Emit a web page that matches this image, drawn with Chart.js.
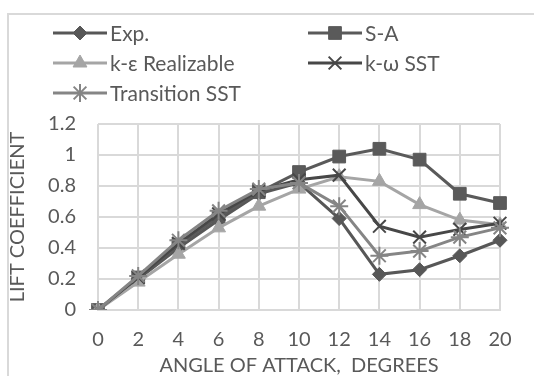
<!DOCTYPE html>
<html>
<head>
<meta charset="utf-8">
<script src="https://cdn.jsdelivr.net/npm/chart.js@4/dist/chart.umd.min.js"></script>
<style>
  body { margin: 0; background: #fff; }
  .wrap { position: relative; width: 534px; height: 376px; overflow: hidden; }
  .frame { position: absolute; left: 7px; top: 13px; width: 600px; height: 420px; border: 2px solid #d9d9d9; }
  canvas { position: absolute; left: 0; top: 0; }
</style>
</head>
<body>
<div class="wrap">
  <div class="frame"></div>
  <canvas id="lift" width="534" height="376"></canvas>
</div>
<script>
const angles = ['0', '2', '4', '6', '8', '10', '12', '14', '16', '18', '20'];
const expLift = [0, 0.2, 0.4, 0.58, 0.75, 0.82, 0.59, 0.23, 0.26, 0.35, 0.45];
const saLift = [0, 0.21, 0.42, 0.6, 0.76, 0.89, 0.99, 1.04, 0.97, 0.75, 0.69];
const keLift = [0, 0.18, 0.36, 0.53, 0.67, 0.78, 0.86, 0.83, 0.68, 0.58, 0.55];
const kwLift = [0, 0.21, 0.43, 0.62, 0.77, 0.84, 0.87, 0.54, 0.47, 0.52, 0.56];
const trLift = [0, 0.22, 0.45, 0.64, 0.78, 0.82, 0.67, 0.35, 0.38, 0.47, 0.53];

const FONT = 'Lato';
const TEXT = '#595959';

const makeSeries = (label, data, color, pointStyle, radius, order) => ({
  label,
  data,
  borderColor: color,
  backgroundColor: color,
  borderWidth: 3,
  pointStyle,
  pointRadius: radius,
  pointBorderWidth: pointStyle === 'crossRot' || pointStyle === 'star' ? 2 : 1,
  pointBackgroundColor: color,
  pointBorderColor: color,
  tension: 0,
  order,
});

const datasets = [
  makeSeries('Exp.', expLift, '#575757', 'rectRot', 7, 5),
  makeSeries('S-A', saLift, '#5a5a5a', 'rect', 9, 4),
  makeSeries('k-ε Realizable', keLift, '#a5a5a5', 'triangle', 8, 3),
  makeSeries('k-ω SST', kwLift, '#474747', 'crossRot', 9, 2),
  makeSeries('Transition SST', trLift, '#858585', 'star', 9, 1),
];

// legend drawn by hand: two columns, line with marker in the middle
const legendSpots = [
  { x: 53, y: 33 }, { x: 308, y: 33 },
  { x: 53, y: 63 }, { x: 308, y: 63 },
  { x: 53, y: 93 },
];

const lineLegend = {
  id: 'lineLegend',
  afterDraw(chart) {
    const ctx = chart.ctx;
    const drawPoint = Chart.helpers && Chart.helpers.drawPoint;
    chart.data.datasets.forEach((ds, i) => {
      const spot = legendSpots[i];
      ctx.save();
      ctx.strokeStyle = ds.borderColor;
      ctx.fillStyle = ds.borderColor;
      ctx.lineWidth = 3;
      ctx.beginPath();
      ctx.moveTo(spot.x, spot.y);
      ctx.lineTo(spot.x + 54, spot.y);
      ctx.stroke();
      if (drawPoint) {
        ctx.lineWidth = ds.pointBorderWidth;
        drawPoint(ctx, { pointStyle: ds.pointStyle, radius: ds.pointRadius, rotation: 0, borderWidth: ds.pointBorderWidth }, spot.x + 27, spot.y);
      }
      ctx.fillStyle = TEXT;
      ctx.font = `21px ${FONT}`;
      ctx.textBaseline = 'middle';
      ctx.textAlign = 'left';
      ctx.fillText(ds.label, spot.x + 57, spot.y + 1);
      ctx.restore();
    });
  },
};

new Chart(document.getElementById('lift'), {
  type: 'line',
  data: { labels: angles, datasets },
  plugins: [lineLegend],
  options: {
    responsive: false,
    animation: false,
    layout: { padding: { top: 124, right: 34, left: 0, bottom: 0 } },
    plugins: { legend: { display: false }, tooltip: { enabled: false } },
    scales: {
      x: {
        type: 'category',
        offset: false,
        grid: { color: '#d9d9d9', lineWidth: 2, drawTicks: false, offset: false },
        border: { color: '#d9d9d9', width: 2 },
        ticks: { color: TEXT, font: { family: FONT, size: 20 }, padding: 18, maxRotation: 0, autoSkip: false },
        title: { display: true, text: 'ANGLE OF ATTACK,  DEGREES', color: TEXT, font: { family: FONT, size: 20, lineHeight: 1 }, padding: 0 },
        afterFit(scale) { scale.height = 66; },
      },
      y: {
        min: 0,
        max: 1.2,
        grid: { color: '#d9d9d9', lineWidth: 2, drawTicks: false },
        border: { display: false },
        ticks: {
          stepSize: 0.2,
          color: TEXT,
          font: { family: FONT, size: 20 },
          padding: 22,
          callback: (value) => String(Number(value.toFixed(1))),
        },
        title: { display: true, text: 'LIFT COEFFICIENT', color: TEXT, font: { family: FONT, size: 20, lineHeight: 1 }, padding: { top: 8, bottom: 0 } },
        afterFit(scale) { scale.width = 98; },
      },
    },
  },
});
</script>
</body>
</html>
